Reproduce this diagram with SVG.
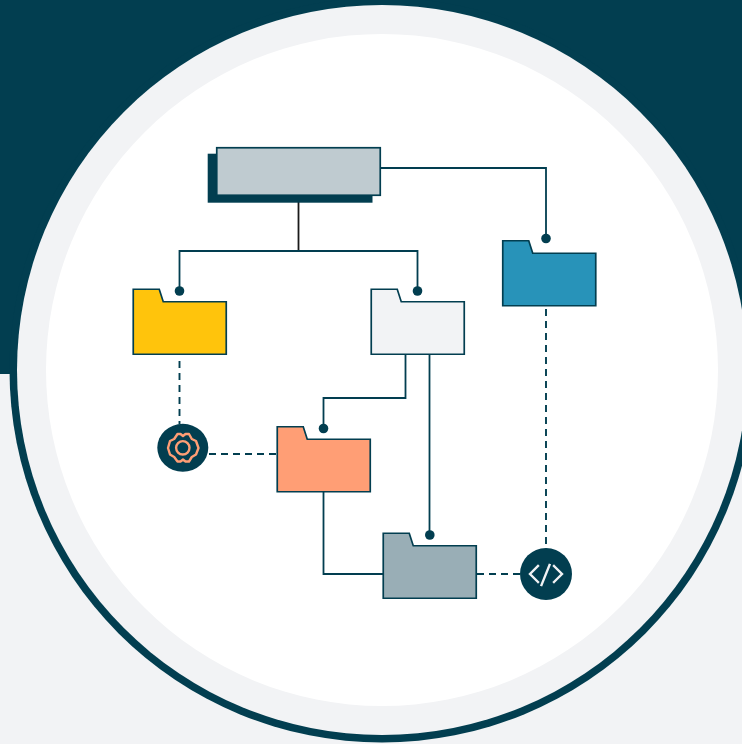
<svg xmlns="http://www.w3.org/2000/svg" width="742" height="744" viewBox="0 0 742 744">
<style>
.folder{stroke:#023e50;stroke-width:1.700;stroke-linejoin:miter}
.line{fill:none;stroke:#023e50;stroke-width:1.800}
.dash{fill:none;stroke:#023e50;stroke-width:1.900;stroke-dasharray:7 5}
.dot{fill:#023e50}
</style>
<defs>
<path id="f" d="M0 0H26L30 12.500H93V65H0Z"/>
</defs>
<g id="background">
<rect width="742" height="744" fill="#f2f3f5"/>
<rect width="742" height="374" fill="#023e50"/>
<circle cx="382" cy="370" r="372.500" fill="#023e50"/>
<circle cx="382" cy="370" r="365" fill="#f2f3f5"/>
<circle cx="382" cy="370" r="336" fill="#fff"/>
</g>
<g id="connectors">
<path class="line" d="M298.500 196V251" style="stroke:#1a1a1a"/>
<path class="line" d="M179.500 291V251H417.500V291"/>
<path class="line" d="M381 168H546V238"/>
<path class="line" d="M405.500 354V398H323.500V428"/>
<path class="line" d="M429.500 354V535"/>
<path class="line" d="M323.500 491V574H383"/>
<path class="dash" d="M179.500 361V424"/>
<path class="dash" d="M209 454H277"/>
<path class="dash" d="M546 309V548"/>
<path class="dash" d="M477 574H520"/>
</g>
<g id="root-node">
<rect x="207.700" y="153.700" width="164.800" height="49" fill="#023e50"/>
<rect x="216.750" y="147.750" width="163.500" height="47.500" fill="#bfcbd0" stroke="#023e50" stroke-width="1.700"/>
</g>
<g id="folder-yellow">
<use href="#f" x="133.250" y="289.250" class="folder" fill="#ffc40c"/>
<circle class="dot" cx="179.500" cy="291" r="4.800"/>
</g>
<g id="folder-light">
<use href="#f" x="371.250" y="289.250" class="folder" fill="#f2f3f5"/>
<circle class="dot" cx="417.500" cy="291" r="4.800"/>
</g>
<g id="folder-blue">
<use href="#f" x="502.750" y="240.750" class="folder" fill="#2893b9"/>
<circle class="dot" cx="546" cy="238.500" r="4.800"/>
</g>
<g id="folder-orange">
<use href="#f" x="277.250" y="426.750" class="folder" fill="#ff9e75"/>
<circle class="dot" cx="323.500" cy="428.500" r="4.800"/>
</g>
<g id="folder-grey">
<use href="#f" x="383.250" y="533.250" class="folder" fill="#99aeb6"/>
<circle class="dot" cx="429.800" cy="535" r="4.800"/>
</g>
<g id="gear-node">
<ellipse class="dot" cx="182.800" cy="447.800" rx="25.500" ry="24"/>
<path fill="none" stroke="#ff9e75" stroke-width="2.400" stroke-linejoin="round" d="M177.500 434H180.500L183 436L185.500 434H189L191.800 439L196 441L198.500 448L196 454.500L191.800 457L189 461.500H185.500L183 459.500L180.500 461.500H177.500L174.200 457L170 454.500L168 448L170 441L174.200 439Z"/>
<circle cx="182.800" cy="447.800" r="6.700" fill="none" stroke="#ff9e75" stroke-width="2.400"/>
</g>
<g id="code-node">
<circle class="dot" cx="546" cy="574" r="26"/>
<path fill="none" stroke="#f2f3f5" stroke-width="2.400" stroke-linecap="square" d="M538 566L530 574L538 582M554 566L562 574L554 582M549.500 565L541.500 585"/>
</g>
</svg>
